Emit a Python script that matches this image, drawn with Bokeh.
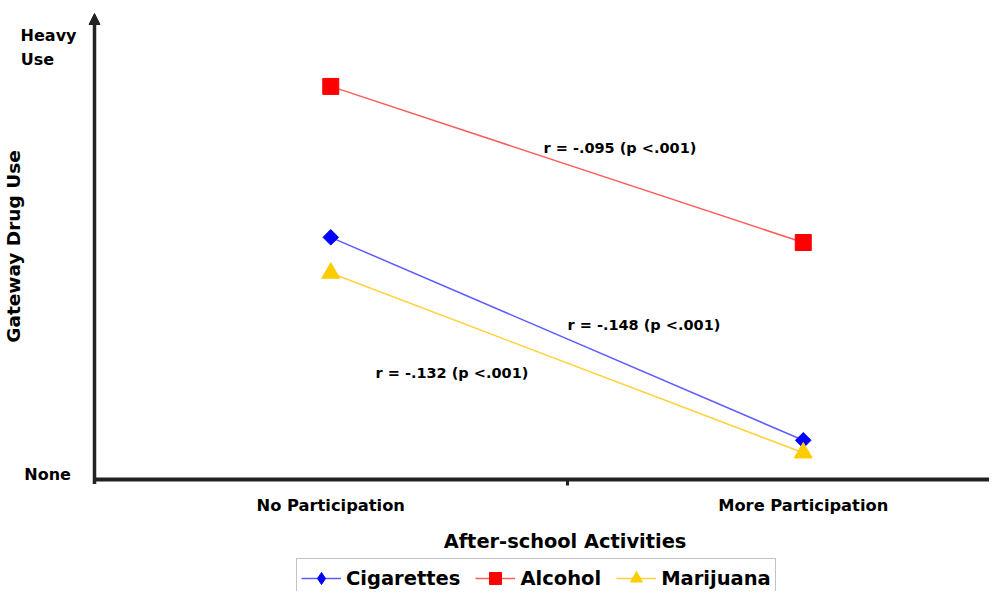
import math
from bokeh.plotting import figure
from bokeh.models import (Range1d, FixedTicker, Label, Arrow, NormalHead,
                          Legend, LegendItem)
from bokeh.embed import file_html
from bokeh.resources import INLINE

# ---------------- data ----------------
categories = ["No Participation", "More Participation"]
cigarettes = [0.562, 0.090]
alcohol = [0.913, 0.550]
marijuana = [0.479, 0.061]
series_names = ["Cigarettes", "Alcohol", "Marijuana"]
y_tick_texts = ["Heavy", "Use", "None"]
y_tick_values = [1.0314, 0.9767, 0.0116]
r_texts = ["r = -.095 (p <.001)", "r = -.148 (p <.001)", "r = -.132 (p <.001)"]
x_title = "After-school Activities"
y_title = "Gateway Drug Use"

# ---------------- layout (pixels) ----------------
W, H = 989, 591
X0_PX, X_UNIT = 94.0, 472.5      # pixel of x=0, pixels per x unit
Y0_PX, Y_UNIT = 478.5, 430.0     # pixel of y=0, pixels per y unit
FONT = "DejaVu Sans"
AX = "#222222"
NB = "\u00a0"


def dx(px):
    return (px - X0_PX) / X_UNIT


def dy(py):
    return (Y0_PX - py) / Y_UNIT


x = [i + 0.5 for i in range(len(categories))]
Y_TOP = dy(13)

p = figure(width=W, height=H, output_backend="svg", toolbar_location=None,
           x_range=Range1d(dx(0), dx(W)), y_range=Range1d(dy(H), dy(0)),
           min_border=0, min_border_left=0, min_border_right=0,
           min_border_top=0, min_border_bottom=0)
p.outline_line_color = None
p.xgrid.grid_line_color = None
p.ygrid.grid_line_color = None
p.background_fill_color = "white"
p.border_fill_color = "white"

# x axis (drawn at y = 0)
xa = p.xaxis[0]
xa.fixed_location = 0
xa.bounds = (0, len(categories))
xa.ticker = FixedTicker(ticks=x, minor_ticks=[1.0])
xa.major_label_overrides = {xi: c for xi, c in zip(x, categories)}
xa.major_tick_out = 0
xa.major_tick_in = 0
xa.minor_tick_out = 6
xa.minor_tick_in = 0
xa.minor_tick_line_width = 3
xa.minor_tick_line_color = AX
xa.axis_line_width = 4
xa.axis_line_color = AX
xa.major_label_text_font = FONT
xa.major_label_text_font_style = "bold"
xa.major_label_text_font_size = "16.3px"
xa.major_label_text_color = "black"
xa.major_label_standoff = 11

# y axis (drawn at x = 0)
ya = p.yaxis[0]
ya.fixed_location = 0
ya.bounds = (0, Y_TOP)
ya.ticker = FixedTicker(ticks=y_tick_values)
ya.major_label_overrides = {
    y_tick_values[0]: y_tick_texts[0],
    y_tick_values[1]: y_tick_texts[1] + NB * 4,
    y_tick_values[2]: y_tick_texts[2] + NB,
}
ya.axis_line_color = None
ya.major_tick_out = 0
ya.major_tick_in = 0
ya.minor_tick_out = 0
ya.minor_tick_in = 0
ya.major_label_standoff = 18
ya.major_label_text_font = FONT
ya.major_label_text_font_style = "bold"
ya.major_label_text_font_size = "16px"
ya.major_label_text_color = "black"
ya.axis_label = y_title
ya.axis_label_text_font = FONT
ya.axis_label_text_font_style = "bold"
ya.axis_label_text_font_size = "18.5px"
ya.axis_label_text_color = "black"
ya.axis_label_standoff = -6

# y axis line with arrow head
p.add_layout(Arrow(end=NormalHead(size=11, fill_color=AX, line_color=AX, line_width=1),
                   x_start=0, y_start=dy(Y0_PX + 5), x_end=0, y_end=Y_TOP,
                   line_width=3.5, line_color=AX))

# series
styles = [
    dict(line="#5C5CFF", fill="#0000FF", marker="square", size=11, angle=math.pi / 4,
         legend_marker="diamond", legend_size=13),
    dict(line="#FF5C5C", fill="#FF0000", marker="square", size=16, angle=0,
         legend_marker=None, legend_size=None),
    dict(line="#FFD23C", fill="#FFCC00", marker="triangle", size=18, angle=0,
         legend_marker=None, legend_size=None),
]
values = [cigarettes, alcohol, marijuana]
items = []
for name, vals, st in zip(series_names, values, styles):
    lr = p.line(x, vals, line_color=st["line"], line_width=1.5)
    rends = [lr]
    if st["legend_marker"]:
        # diamond glyph (hidden beneath the rotated square) used as the legend symbol
        dr = p.scatter(x, vals, marker=st["legend_marker"], size=st["legend_size"],
                       fill_color=st["fill"], line_color=st["fill"])
        rends.append(dr)
    sr = p.scatter(x, vals, marker=st["marker"], size=st["size"], angle=st["angle"],
                   fill_color=st["fill"], line_color=st["fill"])
    if not st["legend_marker"]:
        rends.append(sr)
    items.append(LegendItem(label=name, renderers=rends))

legend = Legend(items=items, orientation="horizontal", location=(296, -7),
                label_text_font=FONT, label_text_font_style="bold",
                label_text_font_size="19.5px", label_text_color="black",
                glyph_width=40, glyph_height=30, label_standoff=5, spacing=15,
                padding=4, margin=0, border_line_color="#888888",
                border_line_width=1.5, background_fill_color="white",
                background_fill_alpha=1.0)
p.add_layout(legend, "center")


def txt(t, px, py, size, align="left"):
    p.add_layout(Label(x=dx(px), y=dy(py), text=t, text_font=FONT,
                       text_font_style="bold", text_font_size=size,
                       text_color="black", text_align=align,
                       text_baseline="alphabetic"))


# x axis title
txt(x_title, 564.5, 541, "19.4px", align="center")

# correlation annotations
txt(r_texts[0], 543, 147, "14.5px")
txt(r_texts[1], 567, 324, "14.5px")
txt(r_texts[2], 375, 372, "14.5px")

open("out.html", "w").write(file_html(p, INLINE))
